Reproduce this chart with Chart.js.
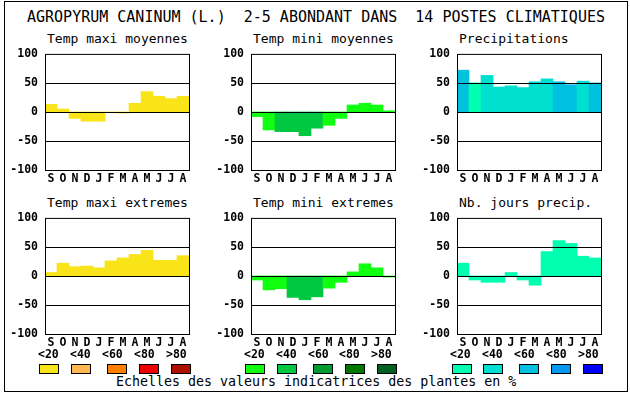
<!DOCTYPE html>
<html>
<head>
<meta charset="utf-8">
<script src="https://cdn.jsdelivr.net/npm/chart.js@4"></script>
<style>
  body { margin: 0; background: #fff; }
  #page { position: relative; width: 630px; height: 394px; overflow: hidden; font-family: "DejaVu Sans Mono", monospace; color: #000; }
  #frame { position: absolute; left: 4px; top: 1px; width: 624px; height: 391px; box-sizing: border-box; border: 1px solid #000; }
  .txt { position: absolute; white-space: pre; line-height: 1; }
  canvas { position: absolute; }
  .box { position: absolute; width: 20px; height: 10px; box-sizing: border-box; border: 1px solid #000; top: 364px; }
  .lab { position: absolute; top: 349px; font-size: 11.5px; font-weight: bold; white-space: pre; line-height: 1; }
</style>
</head>
<body>
<div id="page">
  <div id="frame"></div>
  <div class="txt" style="left:27px; top:10px; font-size:15px;">AGROPYRUM CANINUM (L.)  2-5 ABONDANT DANS  14 POSTES CLIMATIQUES</div>
  <div class="txt" style="left:116px; top:375px; font-size:13.3px;">Echelles des valeurs indicatrices des plantes en %</div>
</div>
<script>
// mois (septembre -> aout)
const months = ['S', 'O', 'N', 'D', 'J', 'F', 'M', 'A', 'M', 'J', 'J', 'A']
const yTicks = [100, 50, 0, -50, -100]
const classLabels = ['<20', '<40', '<60', '<80', '>80']

// valeurs
const tmaxMoy = [13, 5, -11, -16, -16, 0, -2, 15, 35, 27, 23, 27]
const tminMoy = [-8, -31, -34, -34, -41, -28, -23, -11, 12, 15, 12, 2]
const precip = [72, 50, 63, 43, 45, 42, 52, 57, 52, 47, 53, 50]
const tmaxExt = [6, 22, 16, 17, 14, 26, 31, 37, 44, 27, 27, 35]
const tminExt = [-7, -24, -22, -37, -41, -36, -21, -11, 7, 21, 14, -2]
const nbJours = [22, -7, -11, -11, 6, -7, -16, 42, 61, 56, 34, 31]

// classe de valeur indicatrice de chaque mois (0: <20 ... 4: >80)
const tmaxMoyCls = [0, 0, 0, 0, 0, 0, 0, 0, 0, 0, 0, 0]
const tminMoyCls = [0, 0, 1, 1, 1, 1, 0, 0, 0, 0, 0, 0]
const precipCls = [2, 0, 1, 1, 1, 1, 1, 1, 2, 2, 1, 2]
const tmaxExtCls = [0, 0, 0, 0, 0, 0, 0, 0, 0, 0, 0, 0]
const tminExtCls = [0, 0, 0, 1, 1, 1, 0, 0, 0, 0, 0, 0]
const nbJoursCls = [0, 0, 0, 0, 0, 0, 0, 0, 0, 0, 0, 0]

const warm = ['#f8e418', '#ffb850', '#ff8000', '#f00000', '#b01000']
const green = ['#10ff10', '#00c840', '#009a30', '#007800', '#006020']
const blue = ['#00ffb0', '#00e0d0', '#00c0e0', '#0098f0', '#0000ff']

const page = document.getElementById('page')
const FONT = '"DejaVu Sans Mono", monospace'

// lignes 50 / 0 / -50 et cadre, par dessus les barres
const framePlugin = {
    id: 'frameLines',
    afterDatasetsDraw(chart) {
        const ctx = chart.ctx
        const a = chart.chartArea
        const y = chart.scales.y
        ctx.save()
        ctx.strokeStyle = '#000'
        ctx.lineWidth = 1
        ctx.beginPath()
        ;[50, 0, -50].forEach(v => {
            const py = Math.round(y.getPixelForValue(v)) + 0.5
            ctx.moveTo(a.left, py)
            ctx.lineTo(a.right + 1, py)
        })
        ctx.stroke()
        ctx.strokeRect(a.left + 0.5, a.top + 0.5, a.width, a.height)
        ctx.restore()
    }
}

const makePanel = (title, values, classes, palette, plotLeft, plotTop) => {
    const t = document.createElement('div')
    t.className = 'txt'
    t.style.left = (plotLeft + 2) + 'px'
    t.style.top = (plotTop - 18) + 'px'
    t.style.fontSize = '13px'
    t.textContent = title
    page.appendChild(t)

    const cv = document.createElement('canvas')
    cv.width = 192
    cv.height = 150
    cv.style.left = (plotLeft - 45) + 'px'
    cv.style.top = (plotTop - 10) + 'px'
    page.appendChild(cv)

    new Chart(cv, {
        type: 'bar',
        data: {
            labels: months,
            datasets: [{
                data: values,
                backgroundColor: classes.map(c => palette[c]),
                borderWidth: 0,
                barPercentage: 1,
                categoryPercentage: 1
            }]
        },
        options: {
            responsive: false,
            animation: false,
            devicePixelRatio: 1,
            layout: { padding: { top: 10, right: 3, left: 0, bottom: 0 } },
            plugins: { legend: { display: false }, tooltip: { enabled: false } },
            scales: {
                x: {
                    grid: { display: false, drawTicks: false },
                    border: { display: false },
                    ticks: { color: '#000', padding: 2, maxRotation: 0, autoSkip: false, font: { family: FONT, size: 11.5, weight: 'bold' } },
                    afterFit: s => { s.height = 20 }
                },
                y: {
                    min: -100,
                    max: 100,
                    grid: { display: false, drawTicks: false },
                    border: { display: false },
                    afterBuildTicks: s => { s.ticks = yTicks.map(v => ({ value: v })) },
                    ticks: { color: '#000', padding: 7, font: { family: FONT, size: 11.5, weight: 'bold' } },
                    afterFit: s => { s.width = 45 }
                }
            }
        },
        plugins: [framePlugin]
    })
}

makePanel('Temp maxi moyennes', tmaxMoy, tmaxMoyCls, warm, 45, 50)
makePanel('Temp mini moyennes', tminMoy, tminMoyCls, green, 251, 50)
makePanel('Precipitations', precip, precipCls, blue, 457, 50)
makePanel('Temp maxi extremes', tmaxExt, tmaxExtCls, warm, 45, 214)
makePanel('Temp mini extremes', tminExt, tminExtCls, green, 251, 214)
makePanel('Nb. jours precip.', nbJours, nbJoursCls, blue, 457, 214)

// echelles de couleurs
const legendGroup = (palette, labLefts, boxLefts) => {
    for (let i = 0; i < 5; i++) {
        const l = document.createElement('div')
        l.className = 'lab'
        l.style.left = labLefts[i] + 'px'
        l.textContent = classLabels[i]
        page.appendChild(l)
        const b = document.createElement('div')
        b.className = 'box'
        b.style.left = boxLefts[i] + 'px'
        b.style.background = palette[i]
        page.appendChild(b)
    }
}
legendGroup(warm, [38, 70, 102, 134, 166], [39, 71, 107, 139, 171])
legendGroup(green, [244, 276, 308, 339, 371], [245, 277, 313, 345, 377])
legendGroup(blue, [450, 482, 514, 546, 578], [452, 483, 519, 551, 583])
</script>
</body>
</html>
